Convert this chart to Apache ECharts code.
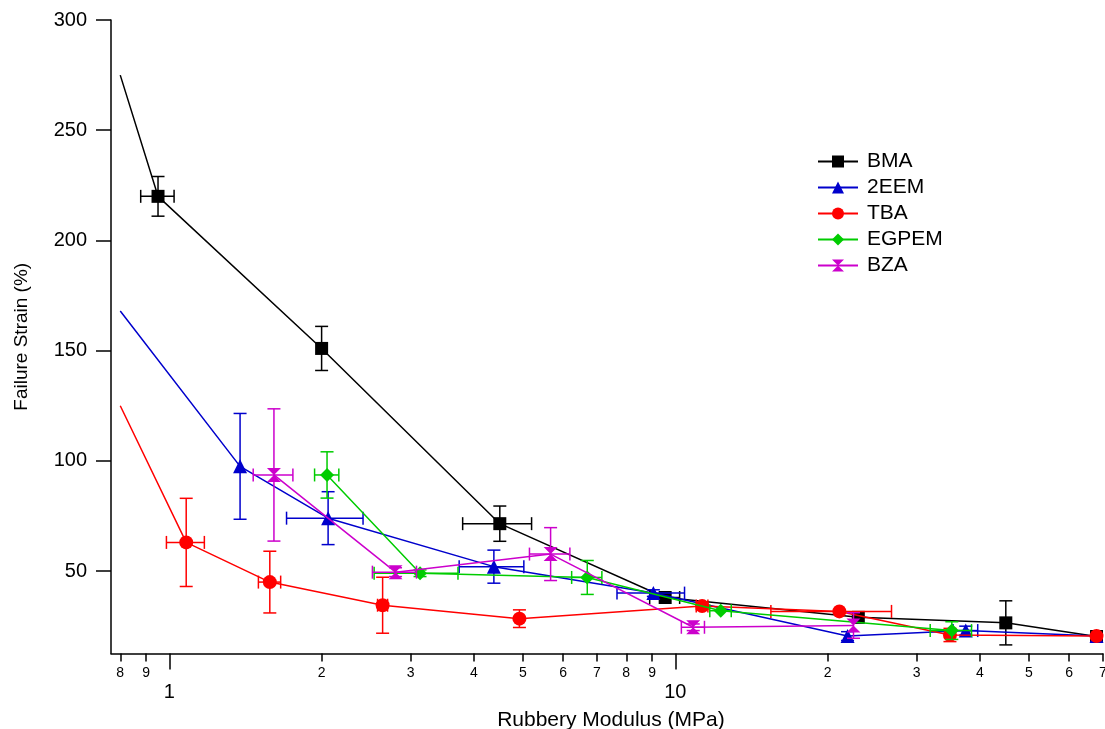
<!DOCTYPE html>
<html>
<head>
<meta charset="utf-8">
<script src="https://cdn.jsdelivr.net/npm/echarts@6/dist/echarts.min.js"></script>
<style>
  html, body { margin: 0; padding: 0; background: #fff; }
  #chart { width: 1105px; height: 729px; }
</style>
</head>
<body>
<div id="chart"></div>
<script>
// ---------- data ----------
const seriesNames = ['BMA', '2EEM', 'TBA', 'EGPEM', 'BZA'];

const bmaX    = [0.8, 0.95, 2.0, 4.5, 9.55, 23.0, 45.0, 68.0];
const bmaY    = [275, 220, 151, 71.5, 38, 29, 26.5, 20.3];
const bmaXErr = [0, 0.072, 0, 0.7, 0.65, 0, 0, 0];
const bmaYErr = [0, 9, 10, 8, 0, 0, 10, 0];

const eemX    = [0.8, 1.38, 2.06, 4.38, 9.05, 21.9, 37.5, 68.0];
const eemY    = [168, 97.5, 74, 52, 40, 20.5, 23, 20.5];
const eemXErr = [0, 0, 0.355, 0.64, 1.38, 0, 2.1, 0];
const eemYErr = [0, 24, 12, 7.5, 1.5, 2, 2, 0];

const tbaX    = [0.8, 1.08, 1.58, 2.64, 4.92, 11.3, 21.1, 34.9, 68.0];
const tbaY    = [125, 63, 45, 34.5, 28.4, 34.1, 31.7, 21, 20.5];
const tbaXErr = [0, 0.093, 0.08, 0.06, 0, 0.3, 5.65, 0, 0];
const tbaYErr = [0, 20, 14, 12.7, 4, 1.5, 0, 3, 0];

const egpX    = [2.05, 3.13, 6.7, 12.3, 35.2];
const egpY    = [93.6, 49, 47.1, 32, 23];
const egpXErr = [0.113, 0.59, 0.46, 0.6, 3.3];
const egpYErr = [10.5, 1.5, 7.7, 0, 4];

const bzaX    = [1.61, 2.8, 5.67, 10.85, 22.5];
const bzaY    = [93.6, 49.5, 57.7, 24.5, 25.3];
const bzaXErr = [0.145, 0.28, 0.52, 0.57, 0];
const bzaYErr = [30, 2, 12, 1.5, 5.8];

// points drawn only as line ends (no marker): index 0 of these series
const lineOnlyFirst = { 'BMA': true, '2EEM': true, 'TBA': true };

// axis ticks
const minorTickValues = [0.8, 0.9, 2, 3, 4, 5, 6, 7, 8, 9, 20, 30, 40, 50, 60, 70];
const minorTickLabels = ['8', '9', '2', '3', '4', '5', '6', '7', '8', '9', '2', '3', '4', '5', '6', '7'];
const majorTickValues = [1, 10];
const majorTickLabels = ['1', '10'];
const yTickValues = [50, 100, 150, 200, 250, 300];

// ---------- styling ----------
const FONT = "'Liberation Sans', Arial, Helvetica, sans-serif";
const colors = { 'BMA': '#000000', '2EEM': '#0000cc', 'TBA': '#ff0000', 'EGPEM': '#00cc00', 'BZA': '#cc00cc' };
const symbols = {
  'BMA': 'rect',
  '2EEM': 'triangle',
  'TBA': 'circle',
  'EGPEM': 'diamond',
  'BZA': 'path://M0,0L10,0L5,5L10,10L0,10L5,5Z'
};
const symbolSizes = { 'BMA': 13, '2EEM': 14, 'TBA': 14, 'EGPEM': 14, 'BZA': 14 };

const groups = [
  ['BMA', bmaX, bmaY, bmaXErr, bmaYErr],
  ['2EEM', eemX, eemY, eemXErr, eemYErr],
  ['TBA', tbaX, tbaY, tbaXErr, tbaYErr],
  ['EGPEM', egpX, egpY, egpXErr, egpYErr],
  ['BZA', bzaX, bzaY, bzaXErr, bzaYErr]
];

function lookup(values, labels, v) {
  for (let i = 0; i < values.length; i++) {
    if (Math.abs(values[i] - v) <= values[i] * 1e-4) return labels[i];
  }
  return '';
}

function errRenderer(color) {
  const CAP = 6.5;
  return function (params, api) {
    const x = api.value(0), y = api.value(1), ex = api.value(2), ey = api.value(3);
    const style = { stroke: color, lineWidth: 1.5, fill: null };
    const ch = [];
    if (ey > 0) {
      const t = api.coord([x, y + ey]);
      const b = api.coord([x, y - ey]);
      ch.push({ type: 'line', shape: { x1: t[0], y1: t[1], x2: b[0], y2: b[1] }, style });
      ch.push({ type: 'line', shape: { x1: t[0] - CAP, y1: t[1], x2: t[0] + CAP, y2: t[1] }, style });
      ch.push({ type: 'line', shape: { x1: b[0] - CAP, y1: b[1], x2: b[0] + CAP, y2: b[1] }, style });
    }
    if (ex > 0) {
      const l = api.coord([x - ex, y]);
      const r = api.coord([x + ex, y]);
      ch.push({ type: 'line', shape: { x1: l[0], y1: l[1], x2: r[0], y2: r[1] }, style });
      ch.push({ type: 'line', shape: { x1: l[0], y1: l[1] - CAP, x2: l[0], y2: l[1] + CAP }, style });
      ch.push({ type: 'line', shape: { x1: r[0], y1: r[1] - CAP, x2: r[0], y2: r[1] + CAP }, style });
    }
    return { type: 'group', children: ch };
  };
}

const series = [];
groups.forEach(function (g, gi) {
  const name = g[0], xs = g[1], ys = g[2], exs = g[3], eys = g[4];
  const color = colors[name];
  const errData = xs.map((x, i) => [x, ys[i], exs[i], eys[i]]);
  series.push({
    type: 'custom',
    name: name + ' error',
    xAxisIndex: 0, yAxisIndex: 0,
    renderItem: errRenderer(color),
    encode: { x: 0, y: 1 },
    data: errData,
    z: 2 + gi * 2,
    silent: true
  });
  const lineData = xs.map(function (x, i) {
    const item = { value: [x, ys[i]] };
    if (i === 0 && lineOnlyFirst[name]) item.symbol = 'none';
    return item;
  });
  series.push({
    type: 'line',
    name: name,
    xAxisIndex: 0, yAxisIndex: 0,
    data: lineData,
    symbol: symbols[name],
    symbolSize: symbolSizes[name],
    showAllSymbol: true,
    itemStyle: { color: color, borderWidth: 0 },
    lineStyle: { color: color, width: 1.5 },
    z: 3 + gi * 2,
    clip: true,
    silent: true
  });
});

const xMin = 0.767, xMax = 70;
const yMin = 12.6, yMax = 300;

const axisLineStyle = { color: '#000', width: 1.5 };

const option = {
  animation: false,
  backgroundColor: '#ffffff',
  textStyle: { fontFamily: FONT },
  grid: { left: 111, right: 2.1, top: 20, bottom: 75.5, containLabel: false, outerBoundsMode: 'none' },
  legend: {
    orient: 'vertical',
    left: 812, top: 146,
    data: seriesNames,
    itemWidth: 40, itemHeight: 15, itemGap: 5,
    textStyle: { fontFamily: FONT, fontSize: 21, color: '#000', lineHeight: 21, padding: [0, 0, 0, 4] },
    selectedMode: false
  },
  xAxis: [
    {
      type: 'log', logBase: 10, min: xMin, max: xMax, position: 'bottom',
      axisLine: { show: true, onZero: false, lineStyle: axisLineStyle },
      axisTick: { show: true, length: 8, inside: false, customValues: minorTickValues, lineStyle: axisLineStyle },
      axisLabel: {
        show: true, customValues: minorTickValues, margin: 13,
        fontSize: 14, color: '#000', fontFamily: FONT,
        formatter: v => lookup(minorTickValues, minorTickLabels, v)
      },
      splitLine: { show: false }, minorTick: { show: false }, minorSplitLine: { show: false }
    },
    {
      type: 'log', logBase: 10, min: xMin, max: xMax, position: 'bottom',
      name: 'Rubbery Modulus (MPa)', nameLocation: 'middle', nameGap: 56,
      nameTextStyle: { fontSize: 21, color: '#000', fontFamily: FONT, padding: [0, 0, 0, 8] },
      axisLine: { show: false, onZero: false },
      axisTick: { show: true, length: 16, inside: false, customValues: majorTickValues, lineStyle: axisLineStyle },
      axisLabel: {
        show: true, customValues: majorTickValues, margin: 29,
        fontSize: 20, color: '#000', fontFamily: FONT,
        formatter: v => lookup(majorTickValues, majorTickLabels, v)
      },
      splitLine: { show: false }, minorTick: { show: false }, minorSplitLine: { show: false }
    }
  ],
  yAxis: [{
    type: 'value', min: yMin, max: yMax, position: 'left',
    name: 'Failure Strain (%)', nameLocation: 'middle', nameGap: 80, nameRotate: 90,
    nameTextStyle: { fontSize: 19, color: '#000', fontFamily: FONT },
    axisLine: { show: true, onZero: false, lineStyle: axisLineStyle },
    axisTick: { show: true, length: 15, inside: false, customValues: yTickValues, lineStyle: axisLineStyle },
    axisLabel: { show: true, customValues: yTickValues, margin: 24, fontSize: 20, color: '#000', fontFamily: FONT },
    splitLine: { show: false }
  }],
  series: series
};

const chart = echarts.init(document.getElementById('chart'), null, { renderer: 'canvas' });
chart.setOption(option);
</script>
</body>
</html>
